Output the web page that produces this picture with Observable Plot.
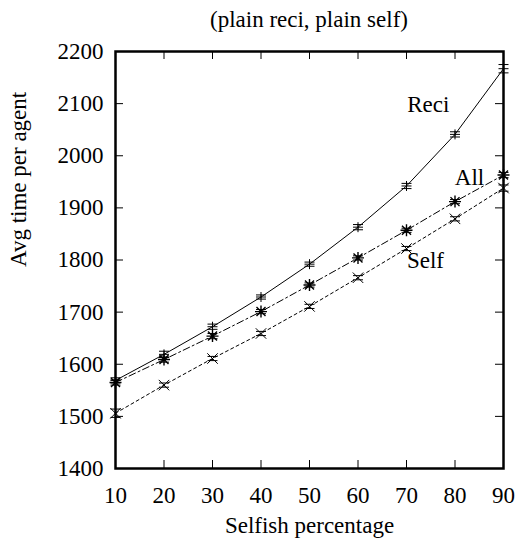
<!DOCTYPE html>
<html><head><meta charset="utf-8">
<script src="https://cdn.jsdelivr.net/npm/d3@7"></script>
<script src="https://cdn.jsdelivr.net/npm/@observablehq/plot@0.6"></script>
<style>
body{margin:0;background:#fff;}
#title{height:40px;width:400px;padding-left:109px;text-align:center;font:23px "Liberation Serif",serif;line-height:40px;color:#000;white-space:nowrap;}
</style></head>
<body>
<div id="title">(plain reci, plain self)</div>
<div id="chart"></div>
<script>
const pct = [10,20,30,40,50,60,70,80,90];
const reci = [1569,1619,1672,1729,1792,1863,1942,2041,2167];
const reciErr = [5,6,5,4,4,5,5,5,8];
const allV = [1565,1609,1654,1701,1752,1804,1857,1912,1963];
const allErr = [5,5,5,4,4,4,4,4,5];
const selfV = [1506,1560,1611,1659,1711,1766,1822,1879,1938];
const selfErr = [8,4,4,4,4,4,4,4,6];
const seriesNames = ["Reci","All","Self"];
const labelX = [74.5, 83.0, 73.9];
const labelY = [2098, 1958, 1798];
const xTicks = [10,20,30,40,50,60,70,80,90];
const yTicks = [1400,1500,1600,1700,1800,1900,2000,2100,2200];
const xLabel = "Selfish percentage";
const yLabel = "Avg time per agent";

const mk = (vals, errs, name) => pct.map((p,i)=>({x:p, y:vals[i], e:errs[i], s:name}));
const R = mk(reci, reciErr, "Reci"), A = mk(allV, allErr, "All"), S = mk(selfV, selfErr, "Self");

const sym = f => ({draw(c, size){ const r = Math.sqrt(size/Math.PI); f(c, r); }});
const plus = sym((c,r)=>{c.moveTo(-r,0);c.lineTo(r,0);c.moveTo(0,-r);c.lineTo(0,r);});
const times = sym((c,r)=>{const q=r*0.75;c.moveTo(-q,-q);c.lineTo(q,q);c.moveTo(-q,q);c.lineTo(q,-q);});
const star = sym((c,r)=>{const q=r*0.75;c.moveTo(-r,0);c.lineTo(r,0);c.moveTo(0,-r);c.lineTo(0,r);c.moveTo(-q,-q);c.lineTo(q,q);c.moveTo(-q,q);c.lineTo(q,-q);});
const cap = sym((c,r)=>{c.moveTo(-r,0);c.lineTo(r,0);});

const W = 515, H = 501, mL = 115, mR = 12, mT = 11, mB = 73;
const pw = W - mL - mR, ph = H - mT - mB;
const FS = 23;

function errMarks(D, dash){
  return [
    Plot.ruleX(D, {x:"x", y1:d=>d.y-d.e, y2:d=>d.y+d.e, stroke:"black", strokeWidth:1, strokeDasharray:dash}),
    Plot.dot(D, {x:"x", y:d=>d.y+d.e, symbol:cap, r:5, stroke:"black", strokeWidth:1}),
    Plot.dot(D, {x:"x", y:d=>d.y-d.e, symbol:cap, r:5, stroke:"black", strokeWidth:1})
  ];
}

const chart = Plot.plot({
  width: W, height: H,
  marginLeft: mL, marginRight: mR, marginTop: mT, marginBottom: mB,
  style: {fontFamily: "Liberation Serif, serif", fontSize: FS + "px", color: "black", background: "white", overflow: "visible"},
  x: {domain: [10, 90]},
  y: {domain: [1400, 2200]},
  marks: [
    Plot.axisX(xTicks, {tickSize: 0, tickPadding: 18, label: null, fontSize: FS, tickFormat: d => String(d)}),
    Plot.axisY(yTicks, {tickSize: 0, tickPadding: 12, label: null, fontSize: FS, tickFormat: d => String(d)}),
    Plot.tickX(xTicks, {x: d=>d, insetTop: ph - 8, stroke: "black"}),
    Plot.tickX(xTicks, {x: d=>d, insetBottom: ph - 8, stroke: "black"}),
    Plot.tickY(yTicks, {y: d=>d, insetRight: pw - 8, stroke: "black"}),
    Plot.tickY(yTicks, {y: d=>d, insetLeft: pw - 8, stroke: "black"}),
    Plot.line(R, {x:"x", y:"y", stroke:"black", strokeWidth:1}),
    Plot.line(A, {x:"x", y:"y", stroke:"black", strokeWidth:1, strokeDasharray:"7,3,2,3"}),
    Plot.line(S, {x:"x", y:"y", stroke:"black", strokeWidth:1, strokeDasharray:"3,3"}),
    ...errMarks(R, null),
    ...errMarks(A, "4,2,1,2"),
    ...errMarks(S, "2,2"),
    Plot.dot(R, {x:"x", y:"y", symbol: plus, r:5, stroke:"black", strokeWidth:1}),
    Plot.dot(A, {x:"x", y:"y", symbol: star, r:6, stroke:"black", strokeWidth:1.4}),
    Plot.dot(S, {x:"x", y:"y", symbol: times, r:7, stroke:"black", strokeWidth:1}),
    Plot.text(seriesNames, {x: (d,i)=>labelX[i], y: (d,i)=>labelY[i], text: d=>d, fontSize: FS, fill: "black"}),
    Plot.text([xLabel], {frameAnchor: "bottom", dy: 64, text: d=>d, fontSize: FS, fill: "black"}),
    Plot.text([yLabel], {frameAnchor: "left", dx: -97, dy: 7, rotate: -90, text: d=>d, fontSize: FS, fill: "black"}),
    Plot.frame({stroke: "black", strokeWidth: 2.5})
  ]
});
document.getElementById("chart").appendChild(chart);
</script>
</body></html>
